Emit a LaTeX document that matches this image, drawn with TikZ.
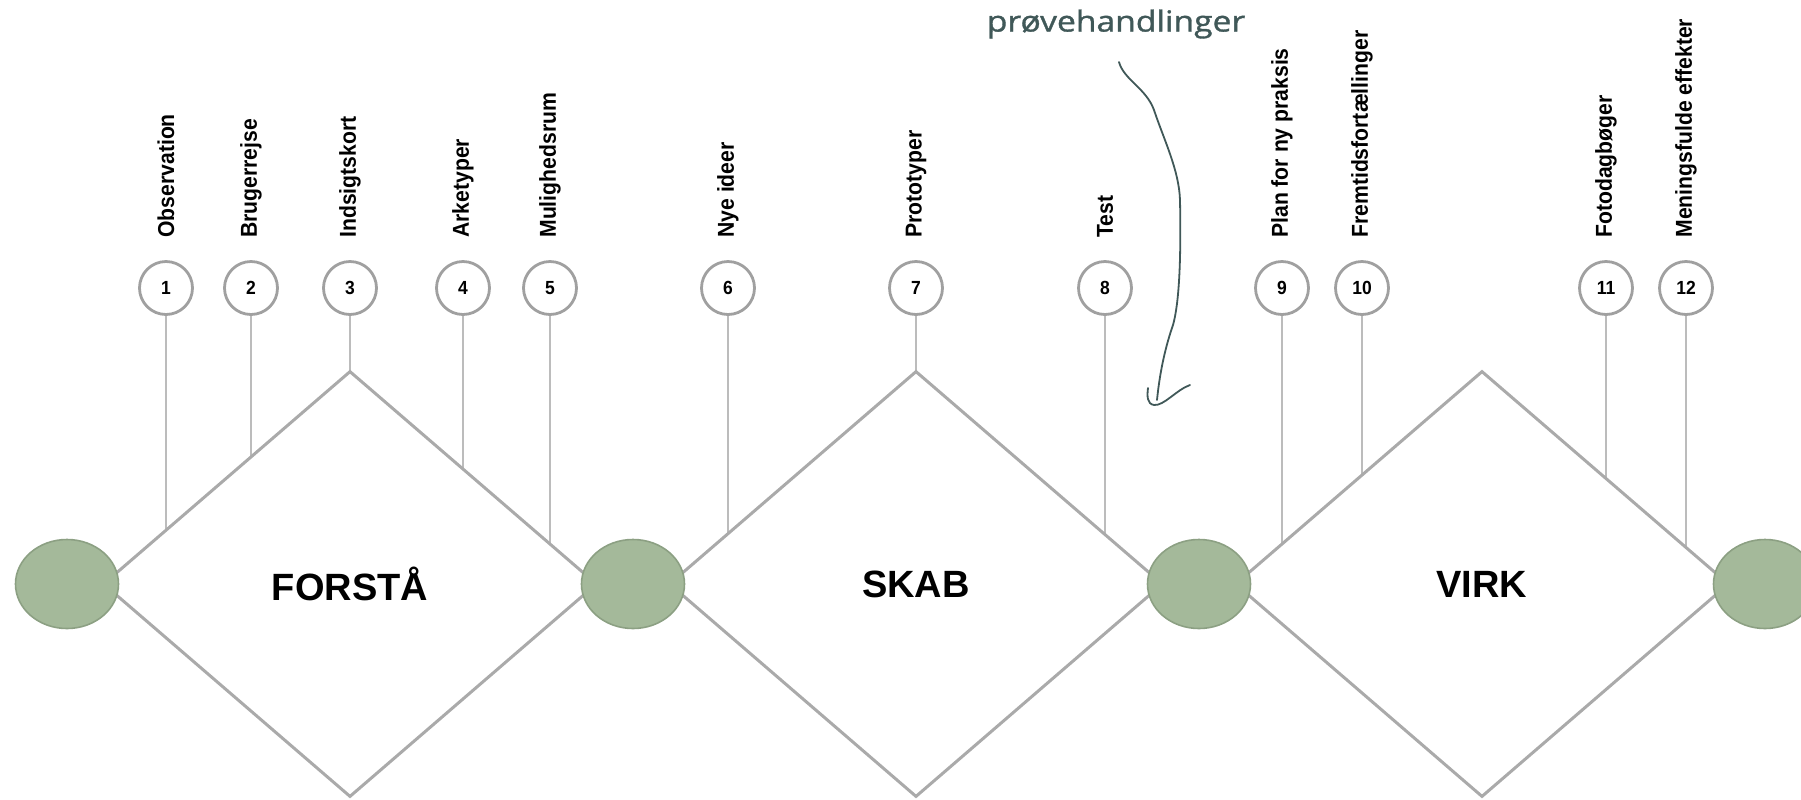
\documentclass[tikz,border=0pt]{standalone}
\usepackage{fontspec}
\usepackage{tikz}
\usetikzlibrary{shapes.geometric}

\setmainfont{Liberation Sans}
\newfontfamily\tagfont[FakeStretch=0.92]{Liberation Sans}
\newfontfamily\scrawlfont[FakeStretch=1.16,FakeBold=1.2]{Open Sans}

\definecolor{edgeGray}{RGB}{170,170,170}
\definecolor{pinGray}{RGB}{188,188,188}
\definecolor{ringGray}{RGB}{160,160,160}
\definecolor{sage}{RGB}{164,185,154}
\definecolor{sageEdge}{RGB}{140,160,131}
\definecolor{inkTeal}{RGB}{64,88,88}

\begin{document}
\begin{tikzpicture}[x=0.5pt,y=0.5pt,yscale=-1,xscale=1,
  stage/.style={diamond,draw=edgeGray,line width=1.5pt,fill=white,inner sep=0pt,
    minimum width=247pt,minimum height=213pt,font=\fontsize{19}{22}\selectfont\bfseries},
  gate/.style={ellipse,draw=sageEdge,line width=0.8pt,fill=sage,inner sep=0pt,
    minimum width=51.5pt,minimum height=44.5pt},
  numring/.style={circle,draw=ringGray,line width=1.4pt,fill=white,inner sep=0pt,
    minimum size=26.5pt,font=\tagfont\bfseries\fontsize{9.5}{11}\selectfont},
  toolname/.style={rotate=90,anchor=west,inner sep=0pt,
    font=\tagfont\bfseries\fontsize{11.5}{13}\selectfont},
  pin/.style={draw=pinGray,line width=1pt},
  scrawl/.style={draw=inkTeal,line width=0.9pt,line cap=round,line join=round}]
\useasboundingbox (0,0) rectangle (1801,799);

%axis through the middle of the diamonds
\coordinate (axis) at (0,584);

%Number circles
\node[numring] (n1) at (166,288) {1};
\node[numring] (n2) at (251,288) {2};
\node[numring] (n3) at (350,288) {3};
\node[numring] (n4) at (463,288) {4};
\node[numring] (n5) at (550,288) {5};
\node[numring] (n6) at (728,288) {6};
\node[numring] (n7) at (916,288) {7};
\node[numring] (n8) at (1105,288) {8};
\node[numring] (n9) at (1282,288) {9};
\node[numring] (n10) at (1362,288) {10};
\node[numring] (n11) at (1606,288) {11};
\node[numring] (n12) at (1686,288) {12};

% Text Node
\node[toolname] (t1) at (166,238) {Observation};
\node[toolname] (t2) at (251,238) {Brugerrejse};
\node[toolname] (t3) at (350,238) {Indsigtskort};
\node[toolname] (t4) at (463,238) {Arketyper};
\node[toolname] (t5) at (550,238) {Mulighedsrum};
\node[toolname] (t6) at (728,238) {Nye ideer};
\node[toolname] (t7) at (916,238) {Prototyper};
\node[toolname] (t8) at (1105,238) {Test};
\node[toolname] (t9) at (1282,238) {Plan for ny praksis};
\node[toolname] (t10) at (1362,238) {Fremtidsfortællinger};
\node[toolname] (t11) at (1606,238) {Fotodagbøger};
\node[toolname] (t12) at (1686,238) {Meningsfulde effekter};

%Straight Lines (ends hidden under the diamonds)
\draw[pin] (n1) -- (n1 |- axis);
\draw[pin] (n2) -- (n2 |- axis);
\draw[pin] (n3) -- (n3 |- axis);
\draw[pin] (n4) -- (n4 |- axis);
\draw[pin] (n5) -- (n5 |- axis);
\draw[pin] (n6) -- (n6 |- axis);
\draw[pin] (n7) -- (n7 |- axis);
\draw[pin] (n8) -- (n8 |- axis);
\draw[pin] (n9) -- (n9 |- axis);
\draw[pin] (n10) -- (n10 |- axis);
\draw[pin] (n11) -- (n11 |- axis);
\draw[pin] (n12) -- (n12 |- axis);

%Shape: Diamond
\node[stage] (forsta) at (350,584) {FORSTÅ};
\node[stage] (skab) at (916,584) {SKAB};
\node[stage] (virk) at (1482,584) {VIRK};

%Shape: Ellipse
\node[gate] (g1) at (67,584) {};
\node[gate] (g2) at (633,584) {};
\node[gate] (g3) at (1199,584) {};
\node[gate] (g4) at (1765,584) {};

% Text Node
\node[inner sep=0pt,text=inkTeal,font=\scrawlfont\fontsize{14.5}{17}\selectfont] (prove) at (1116,24) {prøvehandlinger};

%Curve Lines
\draw[scrawl] (1119,62) .. controls (1124,80) and (1146,88) .. (1154,110) .. controls (1164,140) and (1179,170) .. (1180,200) .. controls (1181,250) and (1180,300) .. (1173,325) .. controls (1166,345) and (1160,370) .. (1157,400) ;
\draw[scrawl] (1148,388) .. controls (1147,396) and (1147,404) .. (1154,405) .. controls (1164,406) and (1176,390) .. (1190,385) ;

\end{tikzpicture}
\end{document}
